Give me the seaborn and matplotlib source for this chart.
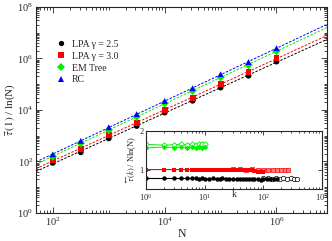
import numpy as np
import pandas as pd
import matplotlib
matplotlib.use("Agg")
import matplotlib.pyplot as plt
import matplotlib.ticker as mticker
import seaborn as sns

sns.set_style("ticks")
plt.rcParams['font.family'] = ['Liberation Serif', 'DejaVu Serif']
plt.rcParams['mathtext.fontset'] = 'stix'

# ---------------- main data ----------------
N_vals = [1e2, 3.16e2, 1e3, 3.16e3, 1e4, 3.16e4, 1e5, 3.16e5, 1e6]
lpa25 = [89, 229, 794, 2400, 7940, 22900, 74000, 214000, 760000]
lpa30 = [115, 295, 1070, 3240, 10000, 30200, 102000, 309000, 1020000]
emtree = [155, 513, 1660, 5500, 18200, 56000, 186000, 550000, 1950000]
rc = [190, 631, 2140, 6900, 22400, 70000, 245000, 724000, 2510000]

series_names = ["LPA γ = 2.5", "LPA γ = 3.0", "EM Tree", "RC"]
series_vals = [lpa25, lpa30, emtree, rc]
colors = {"LPA γ = 2.5": "black", "LPA γ = 3.0": "#ff0000",
          "EM Tree": "#00ee00", "RC": "#0000ff"}
markers = {"LPA γ = 2.5": "o", "LPA γ = 3.0": "s", "EM Tree": "D", "RC": "^"}

df = pd.DataFrame({
    "N": np.tile(N_vals, len(series_names)),
    "tau": np.concatenate(series_vals),
    "series": np.repeat(series_names, len(N_vals)),
})

# ---------------- inset data ----------------
k_black = [1, 2, 3, 4, 5, 6, 7, 8, 9, 10, 12, 14, 16, 18, 20, 23, 26, 30, 35, 40,
           45, 50, 56, 63, 70, 80, 90, 100, 115, 130, 150, 170]
v_black = [0.77, 0.77, 0.77, 0.77, 0.77, 0.77, 0.77, 0.76, 0.77, 0.76, 0.76, 0.77,
           0.76, 0.76, 0.77, 0.76, 0.76, 0.76, 0.76, 0.76, 0.76, 0.76, 0.75, 0.76,
           0.75, 0.76, 0.74, 0.76, 0.75, 0.75, 0.75, 0.75]
k_black_open = [100, 120, 140, 165, 190, 220, 250, 290, 330, 380]
v_black_open = [0.77, 0.77, 0.76, 0.77, 0.76, 0.77, 0.76, 0.77, 0.76, 0.76]
k_red = [1, 2, 3, 4, 5, 6, 7, 8, 9, 10, 12, 14, 16, 18, 20, 23, 26, 30, 35, 40,
         45, 50, 56, 63, 70, 80, 90, 100]
v_red = [1.0, 1.0, 1.0, 1.0, 1.0, 1.0, 1.0, 1.0, 1.0, 1.0, 1.0, 1.0, 1.0, 1.0,
         1.0, 1.0, 1.0, 1.0, 1.0, 1.0, 0.99, 0.99, 0.98, 0.98, 0.97, 0.95, 0.93, 0.95]
k_red_open = [30, 40, 50, 63, 80, 100, 120, 145, 170, 200, 230, 260]
v_red_open = [1.01, 1.01, 1.0, 1.01, 1.0, 1.0, 1.0, 0.99, 1.0, 0.99, 0.99, 0.99]
k_green = [1, 2, 3, 4, 5, 6, 7, 8, 9, 10]
v_green_a = [1.56, 1.58, 1.57, 1.58, 1.57, 1.58, 1.57, 1.58, 1.57, 1.58]
v_green_b = [1.65, 1.63, 1.64, 1.65, 1.64, 1.66, 1.64, 1.66, 1.65, 1.66]

# ---------------- figure ----------------
fig = plt.figure(figsize=(3.32, 2.41), dpi=100)
ax = fig.add_axes([0.1084, 0.1162, 0.8765, 0.855])

# dashed power-law fits
xfit = np.array([50, 8e6])
for name, vals in zip(series_names, series_vals):
    p = np.polyfit(np.log10(N_vals), np.log10(vals), 1)
    ax.plot(xfit, 10 ** np.polyval(p, np.log10(xfit)), ls=(0, (2.5, 1.5)),
            lw=0.7, color=colors[name], zorder=1)

sns.scatterplot(data=df, x="N", y="tau", hue="series", style="series",
                palette=colors, markers=markers, s=18, linewidth=0,
                ax=ax, zorder=3, legend=True)

ax.set_xscale("log")
ax.set_yscale("log")
ax.set_xlim(50, 8e6)
ax.set_ylim(1, 1e8)
ax.xaxis.set_major_locator(mticker.FixedLocator([1e2, 1e4, 1e6]))
ax.yaxis.set_major_locator(mticker.FixedLocator([1, 1e2, 1e4, 1e6, 1e8]))
for a in (ax.xaxis, ax.yaxis):
    a.set_major_formatter(mticker.LogFormatterSciNotation())
    a.set_minor_locator(mticker.LogLocator(base=10, subs=np.arange(1, 10), numticks=30))
    a.set_minor_formatter(mticker.NullFormatter())
ax.tick_params(which="both", direction="in", top=True, right=True, labelsize=7.5,
               width=0.6, pad=2)
ax.tick_params(which="major", length=4)
ax.tick_params(which="minor", length=2)
for s in ax.spines.values():
    s.set_linewidth(0.8)
ax.set_xlabel("N", fontsize=8.5, labelpad=0)
ax.set_ylabel(r"$\vec{\tau}\,(1)$ / ln(N)", fontsize=8)
ax.yaxis.set_label_coords(-0.062, 0.5)

handles, labels = ax.get_legend_handles_labels()
ax.legend(handles, labels, frameon=False, loc="upper left",
          bbox_to_anchor=(0.04, 0.86), fontsize=7, handletextpad=0.1,
          labelspacing=0.3, borderaxespad=0, markerscale=0.9)

# ---------------- inset ----------------
axin = fig.add_axes([0.440, 0.216, 0.530, 0.241])
ms = 3.2
sns.lineplot(x=k_black_open, y=v_black_open, ax=axin, color="black", lw=0.6,
             marker="o", markersize=ms, markerfacecolor="white",
             markeredgecolor="black", markeredgewidth=0.5, estimator=None)
sns.lineplot(x=k_black, y=v_black, ax=axin, color="black", lw=0.8,
             marker="o", markersize=ms, markeredgewidth=0, estimator=None)
sns.lineplot(x=k_red_open, y=v_red_open, ax=axin, color="#ff0000", lw=0.6,
             marker="s", markersize=ms, markerfacecolor="#ff8080",
             markeredgecolor="#ff0000", markeredgewidth=0.5, estimator=None)
sns.lineplot(x=k_red, y=v_red, ax=axin, color="#ff0000", lw=0.8,
             marker="s", markersize=ms, markeredgewidth=0, estimator=None)
sns.lineplot(x=k_green, y=v_green_b, ax=axin, color="#00ee00", lw=0.7,
             marker="D", markersize=2.8, markerfacecolor="white",
             markeredgecolor="#00ee00", markeredgewidth=0.6, estimator=None)
sns.lineplot(x=k_green, y=v_green_a, ax=axin, color="#00ee00", lw=0.7,
             marker="D", markersize=2.8, markeredgewidth=0, estimator=None)

axin.set_xscale("log")
axin.set_xlim(1, 1000)
axin.set_ylim(0.5, 2)
axin.xaxis.set_major_locator(mticker.LogLocator(base=10, numticks=10))
axin.xaxis.set_major_formatter(mticker.LogFormatterSciNotation())
axin.xaxis.set_minor_locator(mticker.LogLocator(base=10, subs=np.arange(2, 10), numticks=30))
axin.xaxis.set_minor_formatter(mticker.NullFormatter())
axin.yaxis.set_major_locator(mticker.FixedLocator([1, 2]))
axin.yaxis.set_major_formatter(mticker.FormatStrFormatter("%d"))
axin.tick_params(which="both", direction="in", top=True, right=True,
                 labelsize=6, width=0.6, pad=2)
axin.tick_params(which="major", length=3)
axin.tick_params(which="minor", length=1.5)
for s in axin.spines.values():
    s.set_linewidth(0.8)
axin.set_xlabel("k", fontsize=7, labelpad=-9)
axin.set_ylabel(r"$\overleftarrow{\tau}\,(k)$ / Nln(N)", fontsize=6, labelpad=1)

fig.savefig("out.png", dpi=100)
